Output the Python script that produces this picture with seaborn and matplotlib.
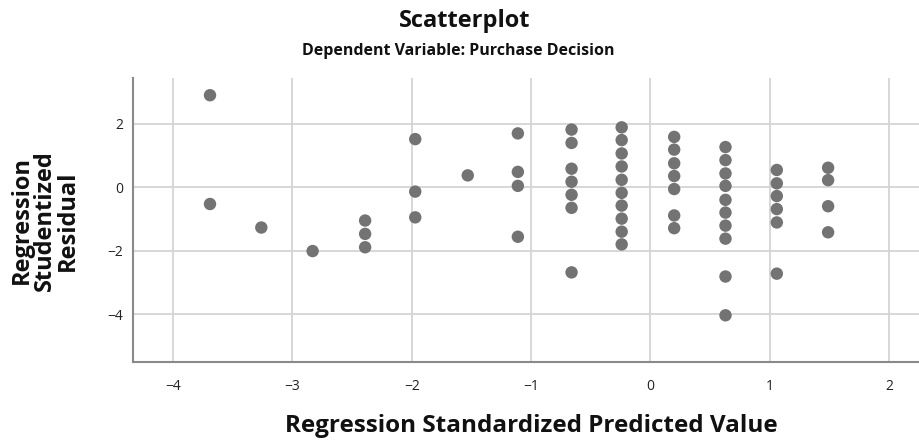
import pandas as pd
import matplotlib
matplotlib.use('Agg')
import matplotlib.pyplot as plt
import seaborn as sns

# valores (predicho estandarizado vs residuo studentizado)
predicted = [-3.69, -3.69,
             -3.26,
             -2.83,
             -2.39, -2.39, -2.39,
             -1.97, -1.97, -1.97,
             -1.53,
             -1.11, -1.11, -1.11, -1.11,
             -0.66, -0.66, -0.66, -0.66, -0.66, -0.66, -0.66,
             -0.24, -0.24, -0.24, -0.24, -0.24, -0.24, -0.24, -0.24, -0.24, -0.24,
             0.20, 0.20, 0.20, 0.20, 0.20, 0.20, 0.20,
             0.63, 0.63, 0.63, 0.63, 0.63, 0.63, 0.63, 0.63, 0.63, 0.63,
             1.06, 1.06, 1.06, 1.06, 1.06, 1.06,
             1.49, 1.49, 1.49, 1.49]
residual = [2.89, -0.53,
            -1.27,
            -2.01,
            -1.05, -1.47, -1.89,
            1.51, -0.14, -0.95,
            0.37,
            1.69, 0.48, 0.04, -1.56,
            1.81, 1.39, 0.58, 0.17, -0.24, -0.65, -2.68,
            1.88, 1.48, 1.06, 0.65, 0.23, -0.18, -0.58, -0.99, -1.40, -1.80,
            1.58, 1.18, 0.75, 0.35, -0.06, -0.89, -1.29,
            1.26, 0.85, 0.43, 0.04, -0.40, -0.80, -1.21, -1.62, -2.81, -4.03,
            0.54, 0.12, -0.28, -0.69, -1.11, -2.72,
            0.61, 0.22, -0.60, -1.42]

x_ticks = [-4, -3, -2, -1, 0, 1, 2]
y_ticks = [-4, -2, 0, 2]

df = pd.DataFrame({'pred': predicted, 'res': residual})

sns.set_style('white')
plt.rcParams['font.family'] = ['Open Sans', 'DejaVu Sans']

fig = plt.figure(figsize=(9.2, 4.41), dpi=100)
ax = fig.add_axes([0.1446, 0.179, 0.8554, 0.644])

sns.scatterplot(data=df, x='pred', y='res', ax=ax, s=80, color='#737373',
                edgecolor='none', zorder=3)

ax.set_xlim(-4.335, 2.26)
ax.set_ylim(-5.5, 3.43)
ax.set_xticks(x_ticks)
ax.set_yticks(y_ticks)
ax.set_xticklabels([str(t).replace('-', '\u2212') for t in x_ticks], fontsize=10)
ax.set_yticklabels([str(t).replace('-', '\u2212') for t in y_ticks], fontsize=10)
ax.tick_params(axis='both', length=0, colors='#222222')
ax.tick_params(axis='x', pad=12)
ax.tick_params(axis='y', pad=7)

ax.grid(True, color='#d4d4d4', linewidth=1.3)
ax.set_axisbelow(True)
for lado in ['top', 'right']:
    ax.spines[lado].set_visible(False)
for lado in ['left', 'bottom']:
    ax.spines[lado].set_color('#8a8a8a')
    ax.spines[lado].set_linewidth(1.5)

ax.set_xlabel('')
ax.set_ylabel('')
fig.text(0.577, 0.035, 'Regression Standardized Predicted Value', ha='center', va='center',
         fontsize=17.5, fontweight='bold', color='#111111')
fig.text(0.049, 0.5, 'Regression\nStudentized\nResidual', ha='center', va='center',
         rotation=90, fontsize=17, fontweight='bold', linespacing=0.95, color='#111111')

fig.text(0.505, 0.953, 'Scatterplot', ha='center', va='center',
         fontsize=17, fontweight='bold', color='#111111')
fig.text(0.498, 0.884, 'Dependent Variable: Purchase Decision', ha='center', va='center',
         fontsize=11.5, fontweight='bold', color='#111111')

fig.savefig('out.png', dpi=100)
